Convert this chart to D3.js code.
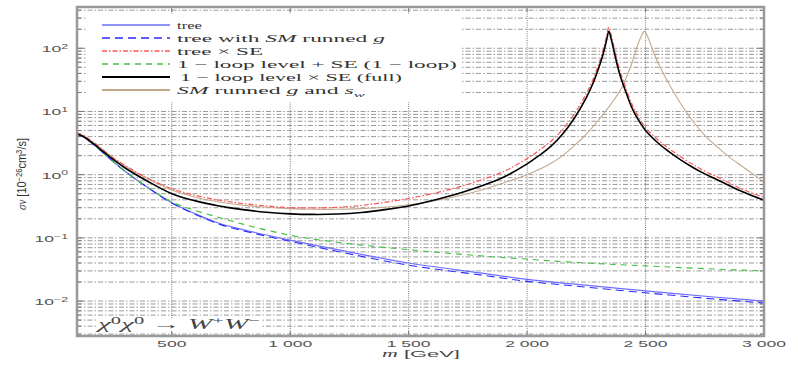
<!DOCTYPE html>
<html>
<head>
<meta charset="utf-8">
<title>chi0 chi0 to W+W-</title>
<script src="https://cdnjs.cloudflare.com/ajax/libs/d3/7.8.5/d3.min.js"></script>
<style>
  body { margin: 0; background: #ffffff; }
  svg { display: block; }
</style>
</head>
<body>
<script>
// masses (GeV) for the smooth, non-resonant curves
var massSmooth = [100, 125, 150, 175, 200, 250, 300, 400, 500, 600, 700, 800, 1000, 1200, 1500, 1800, 2000, 2200, 2500, 2800, 3000];
var treeVals    = [4.4, 4.0, 3.45, 2.9, 2.4, 1.65, 1.15, 0.62, 0.36, 0.24, 0.17, 0.135, 0.092, 0.065, 0.040, 0.028, 0.022, 0.0185, 0.0145, 0.0115, 0.0100];
var treeRunVals = [4.4, 4.0, 3.45, 2.9, 2.4, 1.65, 1.15, 0.62, 0.355, 0.235, 0.165, 0.13, 0.088, 0.061, 0.037, 0.026, 0.0205, 0.0173, 0.0135, 0.0107, 0.0093];
var loopSEVals  = [4.4, 4.0, 3.45, 2.9, 2.4, 1.65, 1.15, 0.63, 0.37, 0.27, 0.21, 0.165, 0.11, 0.085, 0.065, 0.052, 0.046, 0.041, 0.036, 0.032, 0.030];

// masses (GeV) for the curves with the resonance near 2.35 TeV
var massRes = [100, 125, 150, 175, 200, 250, 300, 400, 500, 600, 700, 800, 900, 1000, 1100, 1200, 1300, 1400, 1500, 1600, 1700, 1800,
               1900, 2000, 2050, 2100, 2150, 2200, 2250, 2280, 2300, 2320, 2335, 2345, 2355, 2370, 2390, 2410, 2440, 2460,
               2500, 2560, 2600, 2650, 2700, 2750, 2800, 2850, 2900, 2950, 3000];
var treeSEVals   = [4.6, 4.25, 3.68, 3.15, 2.65, 1.88, 1.42, 0.87, 0.60, 0.47, 0.395, 0.35, 0.32, 0.30, 0.298, 0.305, 0.325, 0.365, 0.42, 0.50, 0.62, 0.81,
                    1.12, 1.8, 2.42, 3.35, 5.2, 9.2, 19.3, 33.5, 53, 91, 153, 215, 163, 93, 46.5, 27.8, 13.8, 9.7,
                    5.6, 3.35, 2.57, 1.9, 1.45, 1.14, 0.93, 0.75, 0.61, 0.51, 0.435];
var loopFullVals = [4.4, 4.05, 3.5, 2.98, 2.5, 1.78, 1.3, 0.78, 0.50, 0.385, 0.32, 0.28, 0.255, 0.24, 0.235, 0.238, 0.252, 0.28, 0.32, 0.39, 0.49, 0.65,
                    0.91, 1.48, 2.0, 2.8, 4.4, 7.9, 16.6, 29, 46, 79, 132, 186, 140, 80, 40, 24, 12, 8.5,
                    5.0, 3.0, 2.3, 1.7, 1.3, 1.03, 0.84, 0.68, 0.555, 0.465, 0.395];

// masses (GeV) for the SM running g and s_w curve (resonance shifted to ~2.5 TeV)
var massRun = [100, 125, 150, 175, 200, 250, 300, 400, 500, 600, 700, 800, 900, 1000, 1100, 1200, 1300, 1400, 1500, 1600, 1700, 1800,
               1900, 2000, 2100, 2150, 2200, 2250, 2300, 2350, 2400, 2440, 2460, 2480, 2495, 2510, 2530, 2560, 2600, 2650,
               2700, 2750, 2800, 2850, 2900, 2950, 3000];
var runGSwVals = [4.5, 4.12, 3.6, 3.08, 2.62, 1.86, 1.38, 0.85, 0.57, 0.44, 0.37, 0.33, 0.305, 0.29, 0.283, 0.283, 0.29, 0.305, 0.335, 0.38, 0.45, 0.56,
                  0.74, 1.0, 1.5, 2.0, 2.9, 4.4, 7.2, 12.5, 24, 55, 95, 150, 185, 150, 95, 52, 27, 13,
                  7.0, 4.2, 2.8, 1.95, 1.42, 1.05, 0.76];

// axis ticks
var xTicks = [500, 1000, 1500, 2000, 2500, 3000];
var xTickLabels = ["500", "1 000", "1 500", "2 000", "2 500", "3 000"];
var yTicks = [0.01, 0.1, 1, 10, 100];
var yTickExps = ["\u22122", "\u22121", "0", "1", "2"];

function draw() {

  "use strict";
  var width = 798,
      height = 368,
      plot = {left: 77, right: 764, top: 7, bottom: 336},
      sx = 1.85;   // the whole figure is stretched sideways

  var svg = d3.select("body")
    .append("svg")
      .attr("width", width)
      .attr("height", height);

  var x = d3.scaleLinear().domain([100, 3000]).range([plot.left, plot.right]);
  var y = d3.scaleLog().domain([0.0028, 450]).range([plot.bottom, plot.top]);

  // helpers for the stretched text
  function textAt(px, py, extra) {
    var g = svg.append("g")
        .attr("transform", "translate(" + px + "," + py + ")" + (extra || ""));
    return g.append("text");
  }
  function fitWidth(t, w, ky) {
    var len = t.node().getComputedTextLength();
    var g = d3.select(t.node().parentNode);
    g.attr("transform", g.attr("transform") + " scale(" + (w / len) + "," + (ky || 1) + ")");
  }
  function rich(t, parts) {
    parts.forEach(function(p) {
      var s = t.append("tspan").text(p.t);
      if (p.i) s.style("font-style", "italic");
      if (p.sup) s.attr("baseline-shift", "super").style("font-size", "70%");
      if (p.sub) s.attr("baseline-shift", "sub").style("font-size", "70%");
      if (p.f) s.style("font-family", p.f);
    });
  }

  // horizontal grid (log minor + major)
  svg.append("g")
    .selectAll("line")
    .data(y.ticks())
    .join("line")
      .attr("x1", plot.left).attr("x2", plot.right)
      .attr("y1", function(d) { return y(d); })
      .attr("y2", function(d) { return y(d); })
      .attr("stroke", "#808080")
      .attr("stroke-width", 0.8)
      .attr("stroke-dasharray", "5,2,1.5,2");

  // vertical grid
  svg.append("g")
    .selectAll("line")
    .data(xTicks.slice(0, -1))
    .join("line")
      .attr("x1", function(d) { return x(d); })
      .attr("x2", function(d) { return x(d); })
      .attr("y1", plot.top).attr("y2", plot.bottom)
      .attr("stroke", "#777")
      .attr("stroke-width", 1)
      .attr("stroke-dasharray", "1,1.2");

  // legend background hides the grid
  svg.append("rect")
    .attr("x", 86).attr("y", 14)
    .attr("width", 374).attr("height", 88)
    .attr("fill", "#fff");

  // annotation background
  svg.append("rect")
    .attr("x", 96).attr("y", 318)
    .attr("width", 166).attr("height", 13)
    .attr("fill", "#fff");

  // inner ticks
  var tk = svg.append("g").attr("stroke", "#777").attr("stroke-width", 1);
  y.ticks().forEach(function(d) {
    var major = yTicks.indexOf(d) >= 0 ? 7 : 4;
    tk.append("line").attr("x1", plot.left).attr("x2", plot.left + major)
      .attr("y1", y(d)).attr("y2", y(d));
    tk.append("line").attr("x1", plot.right - major).attr("x2", plot.right)
      .attr("y1", y(d)).attr("y2", y(d));
  });
  xTicks.forEach(function(d) {
    tk.append("line").attr("x1", x(d)).attr("x2", x(d))
      .attr("y1", plot.top).attr("y2", plot.top + 5);
    tk.append("line").attr("x1", x(d)).attr("x2", x(d))
      .attr("y1", plot.bottom - 5).attr("y2", plot.bottom);
  });

  // curves
  svg.append("clipPath").attr("id", "clip")
    .append("rect")
      .attr("x", plot.left).attr("y", plot.top)
      .attr("width", plot.right - plot.left).attr("height", plot.bottom - plot.top);

  var line = d3.line()
      .x(function(d) { return x(d[0]); })
      .y(function(d) { return y(d[1]); })
      .curve(d3.curveCatmullRom.alpha(0.5));

  var series = [
    {name: "run",  m: massRun,    v: runGSwVals,   color: "#c4a98f", w: 1.1, dash: null},
    {name: "tree", m: massSmooth, v: treeVals,     color: "#6f6fff", w: 1.2, dash: null},
    {name: "trun", m: massSmooth, v: treeRunVals,  color: "#2a2aff", w: 1.1, dash: "8,5"},
    {name: "lse",  m: massSmooth, v: loopSEVals,   color: "#3fbf3f", w: 1.1, dash: "6,5"},
    {name: "tse",  m: massRes,    v: treeSEVals,   color: "#ff5555", w: 1.2, dash: "5,2,1.5,2"},
    {name: "full", m: massRes,    v: loopFullVals, color: "#000000", w: 1.6, dash: null}
  ];

  var curves = svg.append("g").attr("clip-path", "url(#clip)");
  series.forEach(function(s) {
    curves.append("path")
      .datum(d3.zip(s.m, s.v))
      .attr("fill", "none")
      .attr("stroke", s.color)
      .attr("stroke-width", s.w)
      .attr("stroke-dasharray", s.dash)
      .attr("d", line);
  });

  // frame
  svg.append("rect")
    .attr("x", plot.left).attr("y", plot.top)
    .attr("width", plot.right - plot.left).attr("height", plot.bottom - plot.top)
    .attr("fill", "none")
    .attr("stroke", "#999")
    .attr("stroke-width", 2.5);

  // x tick labels
  xTicks.forEach(function(d, i) {
    textAt(x(d), 347, " scale(" + sx + ",1)")
      .attr("text-anchor", "middle")
      .style("font-family", "'Liberation Sans', Arial, sans-serif")
      .style("font-size", "9.5px")
      .attr("fill", "#555")
      .text(xTickLabels[i]);
  });

  // y tick labels
  yTicks.forEach(function(d, i) {
    var t = textAt(68, y(d) + 4, " scale(1.95,1)")
      .attr("text-anchor", "end")
      .style("font-family", "'Liberation Sans', Arial, sans-serif")
      .style("font-size", "9px")
      .attr("fill", "#555");
    rich(t, [{t: "10"}, {t: yTickExps[i], sup: true}]);
  });

  // axis titles
  var xt = textAt(421, 357)
    .attr("text-anchor", "middle")
    .style("font-family", "'Liberation Sans', Arial, sans-serif")
    .style("font-size", "9.5px")
    .attr("fill", "#444");
  rich(xt, [{t: "m", i: true, f: "'Liberation Serif', serif"}, {t: " [GeV]"}]);
  fitWidth(xt, 78);

  var yt = textAt(26, 174, " rotate(-90)")
    .attr("text-anchor", "middle")
    .style("font-family", "'Liberation Sans', Arial, sans-serif")
    .style("font-size", "8px")
    .attr("fill", "#333");
  rich(yt, [{t: "\u03c3v", i: true, f: "'Liberation Serif', serif"}, {t: " [10"}, {t: "\u221226", sup: true},
            {t: "cm"}, {t: "3", sup: true}, {t: "/s]"}]);
  fitWidth(yt, 72, 1.5);

  // process annotation
  var an = textAt(98, 329)
    .style("font-family", "'Liberation Serif', serif")
    .style("font-size", "14px")
    .attr("fill", "#444");
  rich(an, [{t: "\u03c7", i: true}, {t: "0", sup: true}, {t: "\u03c7", i: true}, {t: "0", sup: true},
            {t: " \u2192 "}, {t: "W", i: true}, {t: "+", sup: true}, {t: "W", i: true}, {t: "\u2212", sup: true}]);
  fitWidth(an, 162);

  // legend
  var legendText = [
    [{t: "tree"}],
    [{t: "tree with "}, {t: "SM", i: true}, {t: " runned "}, {t: "g", i: true}],
    [{t: "tree \u00d7 SE"}],
    [{t: "1 \u2212 loop level  +  SE (1 \u2212 loop)"}],
    [{t: "1 \u2212 loop level  \u00d7 SE (full)"}],
    [{t: "SM", i: true}, {t: " runned "}, {t: "g", i: true}, {t: " and "}, {t: "s", i: true}, {t: "w", i: true, sub: true}]
  ];
  var legendOrder = ["tree", "trun", "tse", "lse", "full", "run"];
  var legendWidths = [25, 208, 86, 280, 225, 188];

  legendOrder.forEach(function(key, i) {
    var s = series.filter(function(d) { return d.name === key; })[0];
    var ly = 25 + i * 13;
    svg.append("line")
      .attr("x1", 102).attr("x2", 170)
      .attr("y1", ly).attr("y2", ly)
      .attr("stroke", key === "run" ? "#b08a64" : s.color)
      .attr("stroke-width", s.w + 0.2)
      .attr("stroke-dasharray", s.dash);
    var t = textAt(i === 4 ? 180 : 177, ly + 3.5)
      .style("font-family", "'Liberation Serif', serif")
      .style("font-size", "10px")
      .attr("fill", "#333");
    rich(t, legendText[i]);
    fitWidth(t, legendWidths[i] - (i === 4 ? 3 : 0));
  });
}

draw();
</script>
</body>
</html>
